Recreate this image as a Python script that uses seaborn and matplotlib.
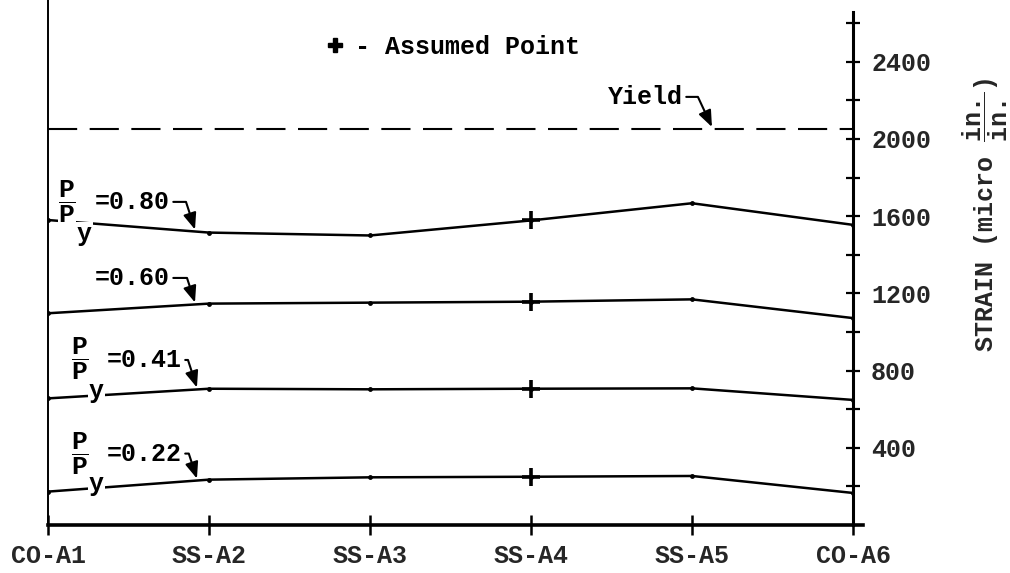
import numpy as np
import pandas as pd
import matplotlib
matplotlib.use("Agg")
import matplotlib.pyplot as plt
import seaborn as sns
from matplotlib.lines import Line2D

# ---------------- data ----------------
specimens = ["CO-A1", "SS-A2", "SS-A3", "SS-A4", "SS-A5", "CO-A6"]
ratio_keys = ["0.80", "0.60", "0.41", "0.22"]
strain_080 = [1580, 1515, 1500, 1578, 1667, 1555]
strain_060 = [1097, 1147, 1152, 1157, 1169, 1072]
strain_041 = [656, 706, 703, 706, 708, 648]
strain_022 = [173, 235, 247, 250, 254, 166]
assumed_specimen = "SS-A4"
yield_strain = 2050
y_major_ticks = [400, 800, 1200, 1600, 2000, 2400]
y_minor_ticks = [200, 600, 1000, 1400, 1800, 2200, 2600]

series = {"0.80": strain_080, "0.60": strain_060,
          "0.41": strain_041, "0.22": strain_022}

rows = []
for key in ratio_keys:
    for i, (sp, v) in enumerate(zip(specimens, series[key])):
        rows.append({"ratio": key, "specimen": sp, "pos": i, "strain": v})
df = pd.DataFrame(rows)

# ---------------- style ----------------
sns.set_style("ticks")
plt.rcParams["font.family"] = ["Liberation Mono", "DejaVu Sans"]
plt.rcParams["font.weight"] = "bold"
plt.rcParams["axes.labelweight"] = "bold"
plt.rcParams["mathtext.fontset"] = "custom"
plt.rcParams["mathtext.rm"] = "Liberation Mono:bold"
plt.rcParams["mathtext.it"] = "Liberation Mono:bold"
plt.rcParams["mathtext.bf"] = "Liberation Mono:bold"
plt.rcParams["axes.edgecolor"] = "black"
plt.rcParams["text.color"] = "black"
FS = 18

W, H = 1010, 573
fig = plt.figure(figsize=(W / 100, H / 100), dpi=100)
ax = fig.add_axes([48 / W, 48 / H, 805 / W, 525 / H])

sns.lineplot(data=df, x="pos", y="strain", hue="ratio", hue_order=ratio_keys,
             palette=["black"] * 4, legend=False, linewidth=1.8,
             marker="o", markersize=3.5, markeredgewidth=0,
             estimator=None, ax=ax)

sns.scatterplot(data=df[df["specimen"] == assumed_specimen], x="pos", y="strain",
                marker="+", s=170, color="black", linewidth=2.6, ax=ax, zorder=4)

ax.axhline(yield_strain, color="black", lw=1.5, dashes=(14, 6))

# ---------------- axes ----------------
ax.set_xlim(0, len(specimens) - 1)
ax.set_ylim(0, 2720)
ax.set_xticks(range(len(specimens)), specimens)
ax.set_xlabel("")
ax.yaxis.tick_right()
ax.yaxis.set_label_position("right")
ax.set_yticks(y_major_ticks, [str(t) for t in y_major_ticks])
ax.set_yticks(y_minor_ticks, minor=True)
ax.tick_params(axis="y", which="both", direction="inout", length=10, width=1.6,
               left=False, right=True, labelsize=FS, pad=8, color="black")
ax.tick_params(axis="x", direction="inout", length=15, width=1.8,
               labelsize=FS, pad=6, color="black")
ax.spines["top"].set_visible(False)
ax.spines["left"].set_linewidth(1.4)
ax.spines["right"].set_linewidth(2.2)
ax.spines["right"].set_bounds(0, 2660)
ax.spines["bottom"].set_linewidth(2.6)
ax.spines["bottom"].set_bounds(0, len(specimens) - 1 + 0.06)

ax.set_ylabel(r"STRAIN (micro $\dfrac{in.}{in.}$)", fontsize=FS, rotation=90)
ax.yaxis.set_label_coords(1.164, 0.59)
ax.yaxis.label.set_horizontalalignment("center")
ax.yaxis.label.set_verticalalignment("center")

# ---------------- annotations ----------------
label_layout = {
    "0.80": dict(tx=0.292, ty=1674, tipx=0.913, frac=True, fx=0.118, fy=1675,
                 sx=0.226, sy=1470, fbox=True),
    "0.60": dict(tx=0.292, ty=1280, tipx=0.913, frac=False),
    "0.41": dict(tx=0.366, ty=855, tipx=0.925, frac=True, fx=0.199, fy=861,
                 sx=0.300, sy=660, fbox=False),
    "0.22": dict(tx=0.366, ty=370, tipx=0.925, frac=True, fx=0.199, fy=371,
                 sx=0.300, sy=178, fbox=False),
}
arrow = dict(arrowstyle="-|>,head_length=0.55,head_width=0.22", color="black",
             lw=1.5, shrinkA=0, shrinkB=0, relpos=(1, 0.5),
             connectionstyle="angle,angleA=0,angleB=108,rad=0")
for key in ratio_keys:
    lay = label_layout[key]
    vals = series[key]
    tip_y = vals[0] + (vals[1] - vals[0]) * lay["tipx"]
    ax.annotate("=" + key, xy=(lay["tipx"], tip_y + 10), xytext=(lay["tx"], lay["ty"]),
                textcoords="data", ha="left", va="center", fontsize=FS,
                arrowprops=arrow)
    if lay["frac"]:
        kw = {}
        if lay["fbox"]:
            kw["bbox"] = dict(fc="white", ec="none", pad=0.3)
        ax.text(lay["fx"], lay["fy"], r"$\dfrac{P}{P}$", ha="center", va="center",
                fontsize=FS + 1, zorder=5, **kw)
        ax.text(lay["sx"], lay["sy"], "y", ha="center", va="baseline", fontsize=FS,
                zorder=5, bbox=dict(fc="white", ec="none", pad=0.5))

ax.annotate("Yield", xy=(4.124, yield_strain + 12), xytext=(3.478, 2218),
            textcoords="data", ha="left", va="center", fontsize=FS,
            arrowprops=dict(arrowstyle="-|>,head_length=0.55,head_width=0.22",
                            color="black", lw=1.5, shrinkA=0, shrinkB=0,
                            relpos=(1, 0.5),
                            connectionstyle="angle,angleA=0,angleB=115,rad=0"))

handle = Line2D([], [], marker="P", ls="none", color="black", markersize=10)
ax.legend(handles=[handle], labels=["- Assumed Point"], loc="center left",
          bbox_to_anchor=(325 / W, 1 - 47 / H), bbox_transform=fig.transFigure,
          frameon=False, borderpad=0, borderaxespad=0, handlelength=0.8,
          handletextpad=0.4, prop=dict(size=FS, weight="bold"))

fig.savefig("out.png", dpi=100)
